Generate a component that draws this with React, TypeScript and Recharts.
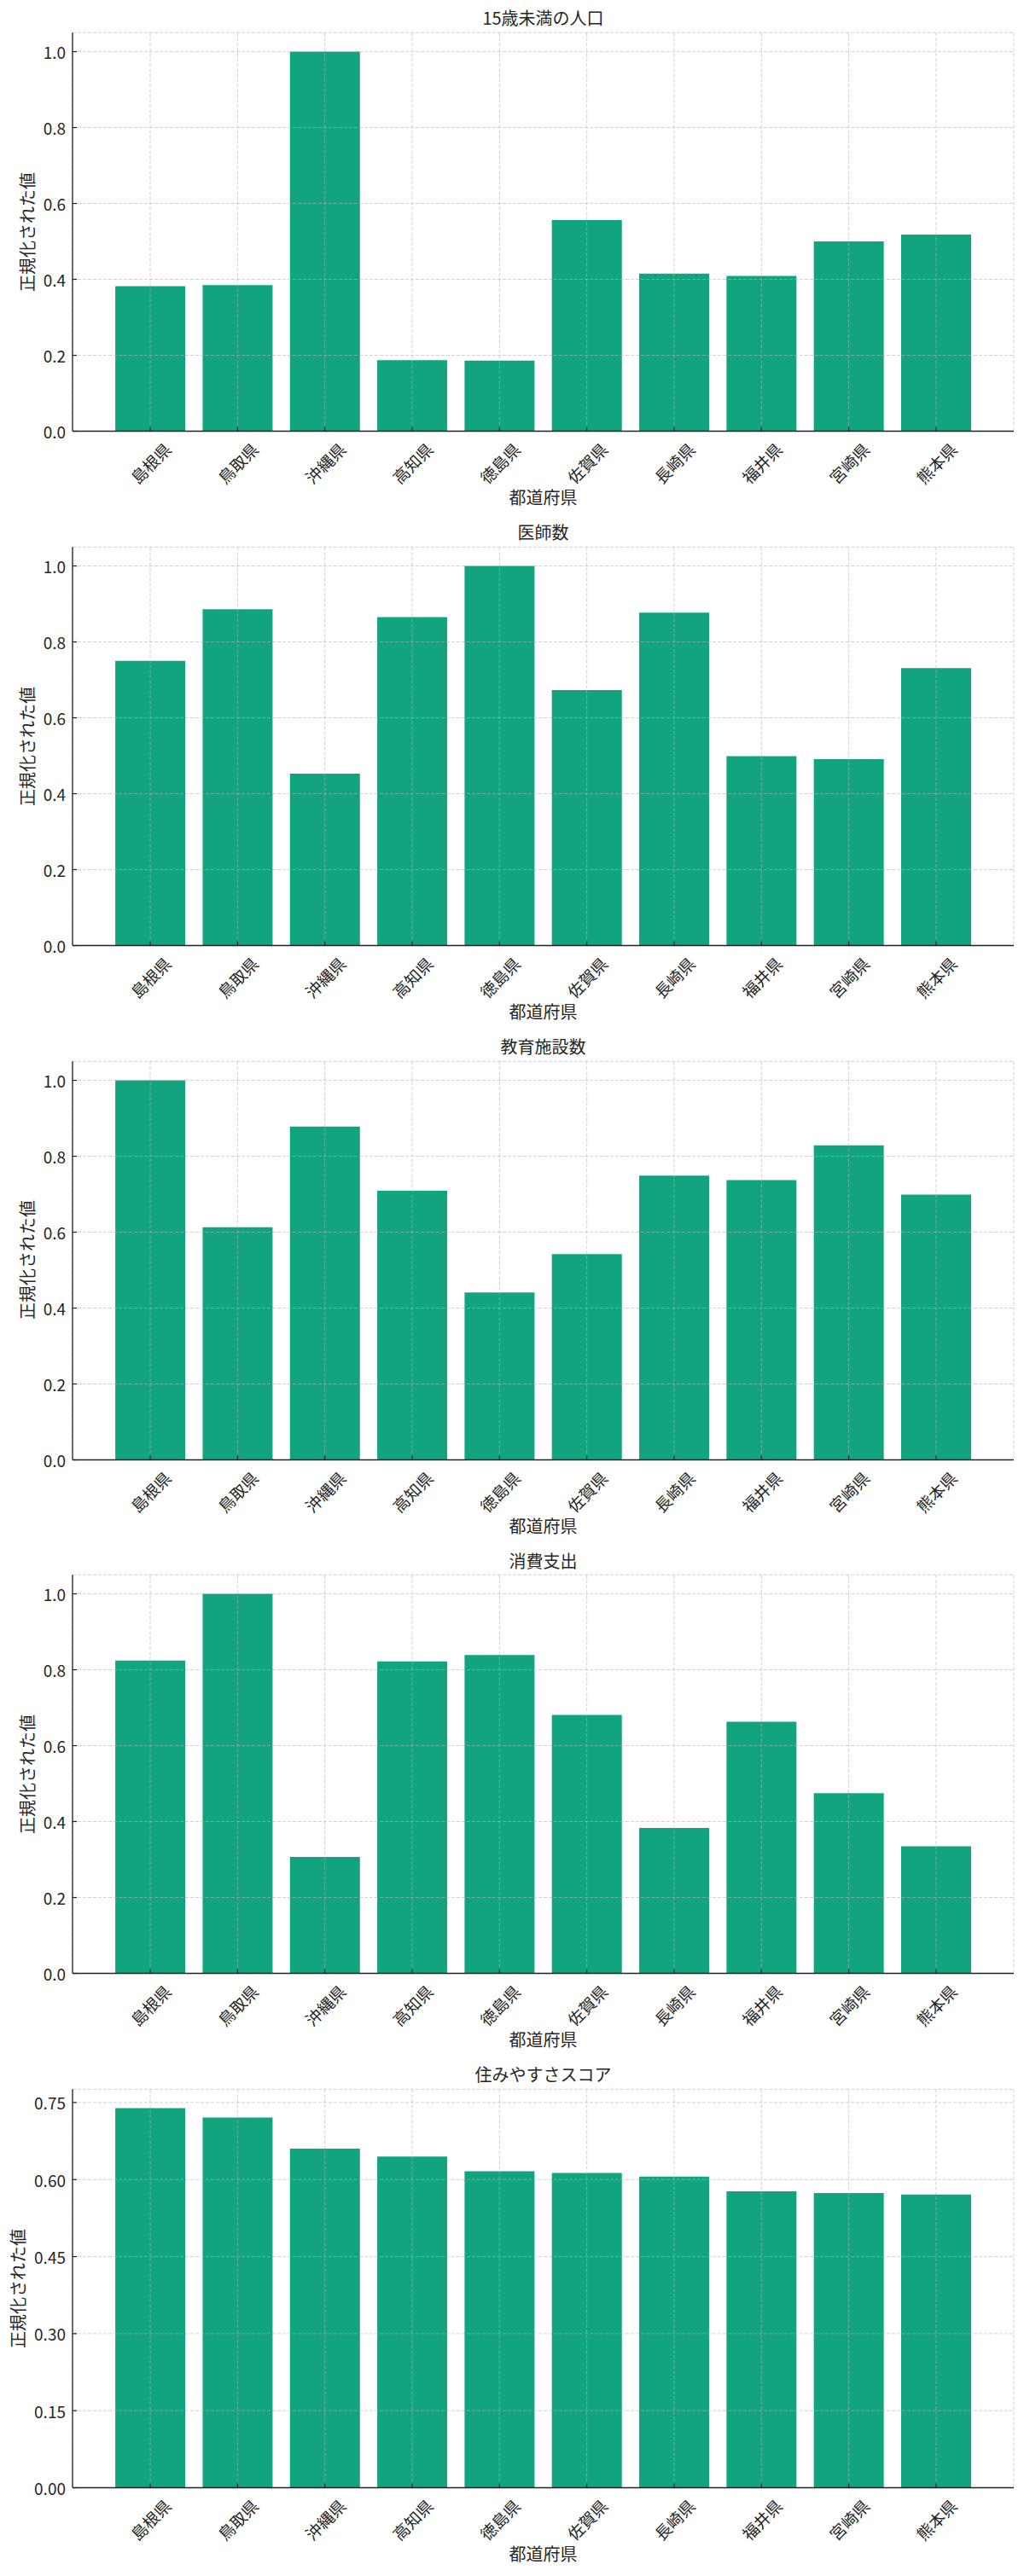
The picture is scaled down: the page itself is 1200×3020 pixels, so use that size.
import { Bar, BarChart, CartesianGrid, XAxis, YAxis } from 'recharts';

const prefectures = ['島根県', '鳥取県', '沖縄県', '高知県', '徳島県', '佐賀県', '長崎県', '福井県', '宮崎県', '熊本県'];

const titles = ['15歳未満の人口', '医師数', '教育施設数', '消費支出', '住みやすさスコア'];

const under15 = [0.382, 0.385, 1.0, 0.187, 0.186, 0.556, 0.415, 0.409, 0.5, 0.518];
const doctors = [0.75, 0.886, 0.453, 0.865, 1.0, 0.673, 0.877, 0.499, 0.491, 0.731];
const schools = [1.0, 0.613, 0.878, 0.709, 0.441, 0.542, 0.749, 0.737, 0.829, 0.699];
const spending = [0.824, 1.0, 0.307, 0.822, 0.839, 0.681, 0.383, 0.663, 0.475, 0.335];
const livability = [0.739, 0.721, 0.66, 0.645, 0.616, 0.613, 0.606, 0.577, 0.574, 0.571];

const normTicks = [0, 0.2, 0.4, 0.6, 0.8, 1.0];
const scoreTicks = [0, 0.15, 0.3, 0.45, 0.6, 0.75];

const panels = [
  { title: titles[0], values: under15, ticks: normTicks, digits: 1 },
  { title: titles[1], values: doctors, ticks: normTicks, digits: 1 },
  { title: titles[2], values: schools, ticks: normTicks, digits: 1 },
  { title: titles[3], values: spending, ticks: normTicks, digits: 1 },
  { title: titles[4], values: livability, ticks: scoreTicks, digits: 2 },
];

const FONT = "'Noto Sans CJK JP', 'Noto Sans', sans-serif";
const BAR_COLOR = '#12a37f';
const TEXT = '#262626';
const STEP = 602.8;
const PLOT_TOP = 38.3;
const PLOT_BOTTOM = 505.5;
const PLOT_LEFT = 85;
const PLOT_RIGHT = 1188;
const CHART_H = 602;
const XAXIS_H = 90;

function XTick({ x, y, payload }: any) {
  const cy = y + 37;
  return (
    <g>
      <line x1={x} y1={y} x2={x} y2={y - 5} stroke="#222" strokeWidth={1.2} />
      <text
        x={x}
        y={cy}
        textAnchor="middle"
        dominantBaseline="central"
        transform={`rotate(-45, ${x}, ${cy})`}
        fontSize={19}
        fontFamily={FONT}
        fill={TEXT}
      >
        {payload.value}
      </text>
    </g>
  );
}

function YTick({ x, y, payload, digits }: any) {
  return (
    <g>
      <line x1={x} y1={y} x2={x + 5} y2={y} stroke="#222" strokeWidth={1.2} />
      <text
        x={x - 8}
        y={y}
        textAnchor="end"
        dominantBaseline="central"
        fontSize={19}
        fontFamily={FONT}
        fill={TEXT}
      >
        {Number(payload.value).toFixed(digits)}
      </text>
    </g>
  );
}

function Panel({ title, values, ticks, digits, index }: any) {
  const data = prefectures.map((name, i) => ({ name, value: values[i] }));
  const top = STEP * index;
  const cx = (PLOT_LEFT + PLOT_RIGHT) / 2;
  const cyPlot = (PLOT_TOP + PLOT_BOTTOM) / 2;
  const yMax = Math.max(...values) * 1.05;
  const labelStyle = {
    position: 'absolute' as const,
    width: 600,
    height: 30,
    lineHeight: '30px',
    textAlign: 'center' as const,
    fontFamily: FONT,
    fontSize: 20,
    color: TEXT,
    whiteSpace: 'nowrap' as const,
  };

  return (
    <div style={{ position: 'absolute', left: 0, top, width: 1200, height: CHART_H }}>
      <BarChart
        width={1200}
        height={CHART_H}
        data={data}
        barCategoryGap="10%"
        margin={{ top: PLOT_TOP, right: 1200 - PLOT_RIGHT, bottom: CHART_H - PLOT_BOTTOM - XAXIS_H, left: 0 }}
      >
        <XAxis
          dataKey="name"
          interval={0}
          height={XAXIS_H}
          padding={{ left: 39.9, right: 39.9 }}
          tickSize={0}
          tickMargin={0}
          tickLine={false}
          axisLine={{ stroke: '#222', strokeWidth: 1.6 }}
          tick={<XTick />}
        />
        <YAxis
          width={PLOT_LEFT}
          domain={[0, yMax]}
          ticks={ticks}
          interval={0}
          tickSize={0}
          tickMargin={0}
          tickLine={false}
          axisLine={{ stroke: '#222', strokeWidth: 1.3 }}
          tick={(p: any) => <YTick {...p} digits={digits} />}
        />
        <Bar dataKey="value" fill={BAR_COLOR} isAnimationActive={false} />
        <CartesianGrid zIndex={450} stroke="#b4b4b4" strokeOpacity={0.6} strokeDasharray="4 2" />
      </BarChart>
      <div style={{ ...labelStyle, left: cx - 300, top: PLOT_TOP - 17 - 15 }}>{title}</div>
      <div style={{ ...labelStyle, left: cx - 300, top: PLOT_BOTTOM + 77.5 - 15 }}>都道府県</div>
      <div
        style={{
          ...labelStyle,
          width: 300,
          left: (index === 4 ? 21.4 : 32) - 150,
          top: cyPlot - 15,
          transform: 'rotate(-90deg)',
        }}
      >
        正規化された値
      </div>
    </div>
  );
}

export default function App() {
  return (
    <div style={{ position: 'absolute', left: 0, top: 0, width: 1200, height: 3020, background: '#fff' }}>
      {panels.map((p, i) => (
        <Panel key={p.title} {...p} index={i} />
      ))}
    </div>
  );
}
